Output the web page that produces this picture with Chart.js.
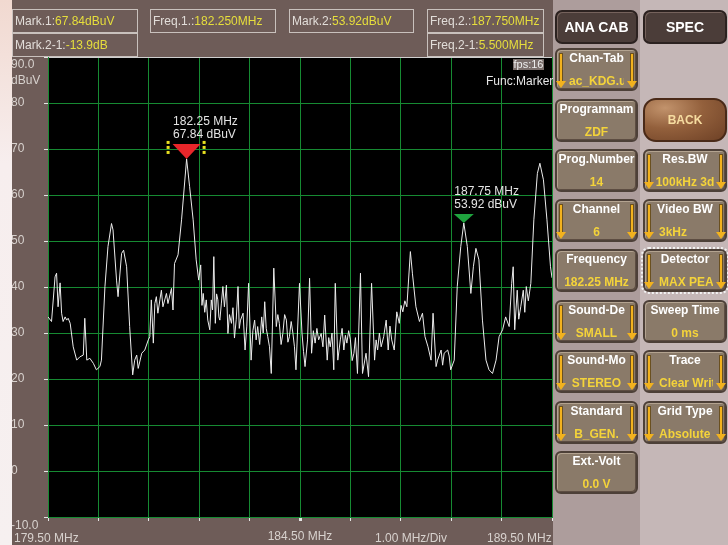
<!DOCTYPE html>
<html>
<head>
<meta charset="utf-8">
<script src="https://cdn.jsdelivr.net/npm/chart.js@4.4.1/dist/chart.umd.min.js"></script>
<style>
  body { margin: 0; width: 728px; height: 545px; overflow: hidden; background: #bcaeae; font-family: "Liberation Sans", Arial, sans-serif; }
  #main { position: absolute; left: 0; top: 0; width: 553px; height: 545px; background: #6e5c58; }
  #wrap { position: absolute; left: 0; top: 0; width: 560px; height: 545px; }
  #strip { position: absolute; left: 0; top: 0; width: 12px; height: 545px; background: linear-gradient(#f1d9d0, #f7eeee 30%, #f6f0f0); z-index: 5; }
  .t { position: absolute; font-size: 12px; line-height: 14px; color: #d8d2ce; white-space: nowrap; }
  .box { position: absolute; height: 24px; border: 1px solid #c9c1bd; box-sizing: border-box; font-size: 12px; line-height: 22px; padding-left: 2px; color: #e2ddd9; white-space: nowrap; }
  .box b { font-weight: normal; color: #e6de3c; }
  #fps { position: absolute; left: 513px; top: 59px; width: 31px; height: 11px; background: #7b6f6c; color: #eee; font-size: 11px; line-height: 11px; text-align: center; }
  #side1 { position: absolute; left: 553px; top: 0; width: 87px; height: 545px; background: #ad9d9c; }
  #side2 { position: absolute; left: 640px; top: 0; width: 88px; height: 545px; background: #c5b7b7; }
  .btn { position: absolute; width: 83px; height: 43px; border-radius: 6px; background: #8a7a69; border: 2px solid #4d4038;
         box-shadow: inset 1px 1px 0 #b3a390, inset -1px -1px 0 #5d4d42; box-sizing: border-box;
         font-weight: bold; font-size: 12px; color: #fff; text-align: center; }
  .btn .lab { position: absolute; left: 0; right: 0; top: 1px; line-height: 14px; white-space: nowrap; overflow: hidden; }
  .btn .val { position: absolute; left: 12px; right: 12px; top: 24px; line-height: 14px; color: #f4d33a; white-space: nowrap; overflow: hidden; }
  .btn.r { width: 84px; }
  .arr { position: absolute; top: 4px; width: 2px; height: 27px; background: #f2b21e; box-shadow: 0 0 0 1px #6a5020; }
  .arr::after { content: ''; position: absolute; left: -4px; top: 27px; border-left: 5px solid transparent; border-right: 5px solid transparent; border-top: 7px solid #f2b21e; }
  .arr.a1 { left: 3px; }
  .arr.a2 { right: 3px; }
  .dark { position: absolute; top: 10px; height: 34px; border-radius: 7px; background: #4b3d39; border: 2px solid #2c2220; box-sizing: border-box;
          color: #fff; font-weight: bold; font-size: 14px; line-height: 30px; text-align: center; box-shadow: inset 1px 1px 0 #75625c; }
  #back { position: absolute; left: 643px; top: 98px; width: 84px; height: 44px; border-radius: 13px; box-sizing: border-box;
          background: radial-gradient(ellipse at 25% 20%, #c2936c 0%, #93603c 45%, #6e4126 100%); border: 2px solid #4a2a18;
          color: #f6dca0; font-weight: bold; font-size: 12px; line-height: 40px; text-align: center; }
</style>
</head>
<body>
<div id="main"></div>
<div id="wrap"><canvas id="spec" width="560" height="545"></canvas></div>
<div id="strip"></div>

<div class="box" style="left:12px;top:9px;width:126px">Mark.1:<b>67.84dBuV</b></div>
<div class="box" style="left:12px;top:33px;width:126px">Mark.2-1:<b>-13.9dB</b></div>
<div class="box" style="left:150px;top:9px;width:126px">Freq.1.:<b>182.250MHz</b></div>
<div class="box" style="left:289px;top:9px;width:125px">Mark.2:<b>53.92dBuV</b></div>
<div class="box" style="left:427px;top:9px;width:117px">Freq.2.:<b>187.750MHz</b></div>
<div class="box" style="left:427px;top:33px;width:117px">Freq.2-1:<b>5.500MHz</b></div>

<div class="t" style="left:11px;top:57px">90.0</div>
<div class="t" style="left:11px;top:73px">dBuV</div>
<div class="t" style="left:11px;top:518px">-10.0</div>
<div class="t" style="left:14px;top:531px">179.50 MHz</div>
<div class="t" style="left:375px;top:531px">1.00 MHz/Div</div>
<div class="t" style="left:487px;top:531px">189.50 MHz</div>

<div id="side1"></div>
<div id="side2"></div>
<div id="fps">fps:16</div>
<div class="t" style="left:486px;top:74px;color:#e6e6e6">Func:Marker</div>
<div class="dark" style="left:555px;width:83px">ANA CAB</div>
<div class="dark" style="left:643px;width:84px">SPEC</div>

<div class="btn" style="left:555px;top:48px"><span class="arr a1"></span><span class="arr a2"></span><div class="lab">Chan-Tab</div><div class="val">ac_KDG.u</div></div>
<div class="btn" style="left:555px;top:99px"><div class="lab">Programnam</div><div class="val">ZDF</div></div>
<div class="btn" style="left:555px;top:149px"><div class="lab">Prog.Number</div><div class="val">14</div></div>
<div class="btn" style="left:555px;top:199px"><span class="arr a1"></span><span class="arr a2"></span><div class="lab">Channel</div><div class="val">6</div></div>
<div class="btn" style="left:555px;top:249px"><div class="lab">Frequency</div><div class="val" style="left:2px;right:2px">182.25 MHz</div></div>
<div class="btn" style="left:555px;top:300px"><span class="arr a1"></span><span class="arr a2"></span><div class="lab">Sound-De</div><div class="val">SMALL</div></div>
<div class="btn" style="left:555px;top:350px"><span class="arr a1"></span><span class="arr a2"></span><div class="lab">Sound-Mo</div><div class="val">STEREO</div></div>
<div class="btn" style="left:555px;top:401px"><span class="arr a1"></span><span class="arr a2"></span><div class="lab">Standard</div><div class="val">B_GEN.</div></div>
<div class="btn" style="left:555px;top:451px"><div class="lab">Ext.-Volt</div><div class="val">0.0 V</div></div>

<div id="back">BACK</div>
<div class="btn r" style="left:643px;top:149px"><span class="arr a1"></span><span class="arr a2"></span><div class="lab">Res.BW</div><div class="val" style="left:10px;right:10px">100kHz 3d</div></div>
<div class="btn r" style="left:643px;top:199px"><span class="arr a1"></span><span class="arr a2"></span><div class="lab">Video BW</div><div class="val" style="text-align:left;left:14px">3kHz</div></div>
<div class="btn r" style="left:643px;top:249px;outline:2px dotted #f2f2f2;outline-offset:0"><span class="arr a1"></span><span class="arr a2"></span><div class="lab">Detector</div><div class="val" style="text-align:left;left:14px">MAX PEAK</div></div>
<div class="btn r" style="left:643px;top:300px"><div class="lab">Sweep Time</div><div class="val">0 ms</div></div>
<div class="btn r" style="left:643px;top:350px"><span class="arr a1"></span><span class="arr a2"></span><div class="lab">Trace</div><div class="val" style="text-align:left;left:14px">Clear Write</div></div>
<div class="btn r" style="left:643px;top:401px"><span class="arr a1"></span><span class="arr a2"></span><div class="lab">Grid Type</div><div class="val" style="text-align:left;left:14px">Absolute</div></div>

<script>
// spectrum trace (MHz / dBuV)
var freqs = [179.50, 179.57, 179.64, 179.67, 179.70, 179.74, 179.77, 179.80, 179.84, 179.87, 179.90, 179.94,
  180.00, 180.07, 180.13, 180.20, 180.23, 180.27, 180.33, 180.40, 180.46, 180.53, 180.56, 180.63, 180.69, 180.76,
  180.79, 180.86, 180.89, 180.96, 181.00, 181.06, 181.12, 181.18, 181.22, 181.26, 181.29, 181.36, 181.42, 181.49,
  181.52, 181.55, 181.59, 181.62, 181.65, 181.68, 181.72, 181.75, 181.78, 181.85, 181.88, 181.95, 181.98, 182.01,
  182.08, 182.15, 182.25, 182.31, 182.38, 182.44, 182.49,
  182.53, 182.555, 182.58, 182.61, 182.64, 182.67, 182.71, 182.74, 182.765, 182.79, 182.82, 182.845, 182.87, 182.89,
  182.91, 182.94, 182.97, 183.00, 183.04, 183.07, 183.10, 183.14, 183.17, 183.20, 183.235, 183.27, 183.295, 183.32,
  183.37, 183.41, 183.445, 183.48, 183.53, 183.565, 183.60, 183.63, 183.66, 183.70, 183.74, 183.77, 183.80, 183.83,
  183.86, 183.895, 183.93, 183.98, 184.03, 184.06, 184.09, 184.125, 184.16, 184.195, 184.23, 184.26, 184.29, 184.325,
  184.36, 184.39, 184.42, 184.49, 184.54, 184.57, 184.60, 184.65, 184.69, 184.73, 184.765, 184.80, 184.835, 184.87,
  184.92, 184.955, 184.99, 185.04, 185.07, 185.10, 185.135, 185.17, 185.20, 185.25, 185.30, 185.335, 185.37, 185.40,
  185.43, 185.465, 185.50, 185.535, 185.57, 185.60, 185.64, 185.70, 185.74, 185.81, 185.86, 185.92, 185.98, 186.01,
  186.04, 186.075, 186.11, 186.16, 186.21, 186.25, 186.285, 186.32, 186.37, 186.42, 186.47, 186.505, 186.54, 186.58,
  186.62,
  186.69, 186.73, 186.80, 186.87, 186.93, 186.98, 187.04, 187.10, 187.14, 187.20, 187.23, 187.30, 187.33, 187.36,
  187.43, 187.46, 187.49, 187.56, 187.62, 187.69, 187.75, 187.82, 187.89, 187.94, 187.99, 188.05, 188.12, 188.19,
  188.25, 188.32, 188.39, 188.45, 188.52, 188.58, 188.65, 188.70, 188.73, 188.76, 188.81, 188.84, 188.88, 188.93,
  188.96, 188.99, 189.03, 189.08, 189.14, 189.21, 189.26, 189.33, 189.40, 189.47, 189.50];
var levels = [33.5, 32.5, 42.2, 43.0, 35.7, 40.9, 34.3, 32.5, 33.5, 32.8, 33.2, 32.1,
  27.0, 24.1, 24.8, 25.2, 33.2, 24.1, 24.5, 23.4, 22.0, 22.7, 24.1, 40.1, 48.8, 53.8,
  52.4, 41.5, 37.9, 47.3, 48.0, 44.4, 31.4, 20.9, 24.1, 25.2, 22.3, 25.6, 26.3, 28.5,
  29.2, 37.2, 27.8, 36.4, 37.9, 34.3, 37.2, 39.3, 35.7, 38.6, 36.4, 39.7, 35.0, 45.1,
  47.0, 54.6, 67.84, 61.8, 54.6, 45.9, 41.5,
  44.8, 36.0, 38.6, 34.5, 37.2, 32.8, 30.7, 37.2, 35.0, 46.6, 32.1, 38.5, 37.2, 33.5,
  32.8, 36.5, 40.1, 35.7, 40.4, 29.9, 34.0, 32.1, 35.5, 28.9, 33.0, 40.1, 31.0, 32.8,
  34.3, 26.3, 31.5, 40.8, 24.1, 30.5, 32.8, 28.5, 31.4, 27.5, 33.5, 30.0, 36.8, 31.0,
  29.2, 27.0, 21.2, 44.1, 31.4, 34.0, 32.1, 27.5, 29.9, 34.0, 32.8, 28.0, 29.2, 32.5,
  29.9, 27.0, 22.0, 40.8, 29.9, 26.0, 22.7, 28.5, 41.9, 25.6, 30.5, 27.8, 31.0, 28.5,
  29.9, 27.0, 33.9, 24.1, 29.0, 27.0, 30.0, 22.0, 40.8, 24.1, 28.5, 31.0, 26.3, 29.5,
  27.8, 30.5, 28.5, 24.0, 25.6, 29.0, 21.2, 43.0, 21.2, 25.6, 20.5, 40.8, 24.1, 28.5,
  26.3, 30.0, 27.0, 29.2, 32.8, 26.3, 31.5, 28.5, 26.3, 34.6, 32.1, 36.0, 34.6, 37.0,
  35.7,
  47.7, 43.0, 35.7, 32.5, 34.3, 29.2, 27.0, 24.1, 34.3, 22.7, 24.1, 26.3, 23.0, 25.6,
  26.3, 25.0, 22.0, 24.1, 40.1, 48.8, 53.92, 48.8, 38.6, 44.4, 48.4, 45.9, 32.8, 24.1,
  22.0, 21.2, 24.1, 29.2, 30.7, 33.5, 31.4, 40.8, 44.4, 30.7, 39.3, 33.0, 35.7, 39.3,
  34.5, 40.1, 37.0, 40.8, 54.6, 64.7, 66.9, 63.3, 54.6, 44.4, 42.0];

var xTicks = [179.5, 180.5, 181.5, 182.5, 183.5, 184.5, 185.5, 186.5, 187.5, 188.5, 189.5];
var centerFreq = 184.5;
var centerLabel = "184.50 MHz";

var markerFreqs = [182.25, 187.75];
var markerLevels = [67.84, 53.92];
var markerTexts = [["182.25 MHz", "67.84 dBuV"], ["187.75 MHz", "53.92 dBuV"]];

var green = '#168a32';

var screenBg = {
  id: 'screenBg',
  beforeDraw: function (chart) {
    var a = chart.chartArea, c = chart.ctx;
    c.save();
    c.fillStyle = '#000';
    c.fillRect(a.left, a.top, a.right - a.left, a.bottom - a.top);
    c.restore();
  }
};

var markers = {
  id: 'markers',
  afterDatasetsDraw: function (chart) {
    var c = chart.ctx, xs = chart.scales.x, ys = chart.scales.y;
    c.save();
    c.font = '12px "Liberation Sans", Arial';
    c.textBaseline = 'middle';
    for (var i = 0; i < markerFreqs.length; i++) {
      var px = xs.getPixelForValue(markerFreqs[i]);
      var py = ys.getPixelForValue(markerLevels[i]);
      var w = i === 0 ? 14 : 10, h = i === 0 ? 15 : 9;
      c.fillStyle = i === 0 ? '#e8262a' : '#1fa33e';
      c.beginPath();
      c.moveTo(px - w, py - h);
      c.lineTo(px + w, py - h);
      c.lineTo(px, py);
      c.closePath();
      c.fill();
      if (i === 0) {
        c.fillStyle = '#e8e020';
        for (var k = 0; k < 3; k++) {
          c.fillRect(px - 20, py - 18 + k * 5, 3, 3);
          c.fillRect(px + 16, py - 18 + k * 5, 3, 3);
        }
      }
      c.fillStyle = '#e4e4e4';
      var tx = px - w + 0.5;
      c.fillText(markerTexts[i][0], tx, py - h - 22);
      c.fillText(markerTexts[i][1], tx, py - h - 9);
    }
    c.restore();
  }
};

var trace = freqs.map(function (f, i) { return { x: f, y: levels[i] }; });

new Chart(document.getElementById('spec'), {
  type: 'line',
  data: {
    datasets: [{
      data: trace,
      borderColor: '#ececec',
      borderWidth: 1,
      pointRadius: 0,
      tension: 0,
      fill: false
    }]
  },
  options: {
    responsive: false,
    animation: false,
    layout: { padding: { left: 11, top: 57, right: 0, bottom: 0 } },
    plugins: { legend: { display: false }, tooltip: { enabled: false } },
    scales: {
      x: {
        type: 'linear',
        min: 179.5,
        max: 189.5,
        afterBuildTicks: function (s) { s.ticks = xTicks.map(function (v) { return { value: v }; }); },
        afterFit: function (s) { s.height = 28; },
        border: { color: green },
        grid: {
          color: green,
          tickLength: 4,
          tickColor: '#e6e6e6',
          tickWidth: function (ctx) { return ctx.tick && ctx.tick.value === centerFreq ? 3 : 1; }
        },
        ticks: {
          autoSkip: false,
          maxRotation: 0,
          padding: 8,
          color: '#d8d2ce',
          font: { family: '"Liberation Sans", Arial', size: 12 },
          callback: function (v) { return v === centerFreq ? centerLabel : ''; }
        }
      },
      y: {
        min: -10,
        max: 90,
        afterFit: function (s) { s.width = 37; },
        border: { color: green },
        grid: {
          color: function (ctx) { return ctx.tick && ctx.tick.value === 90 ? '#cfcfcf' : green; },
          tickLength: 4,
          tickColor: '#e6e6e6'
        },
        ticks: {
          stepSize: 10,
          crossAlign: 'far',
          color: '#d8d2ce',
          font: { family: '"Liberation Sans", Arial', size: 12 },
          callback: function (v) { return (v === 90 || v === -10) ? '' : String(v); }
        }
      }
    }
  },
  plugins: [screenBg, markers]
});
</script>
</body>
</html>
